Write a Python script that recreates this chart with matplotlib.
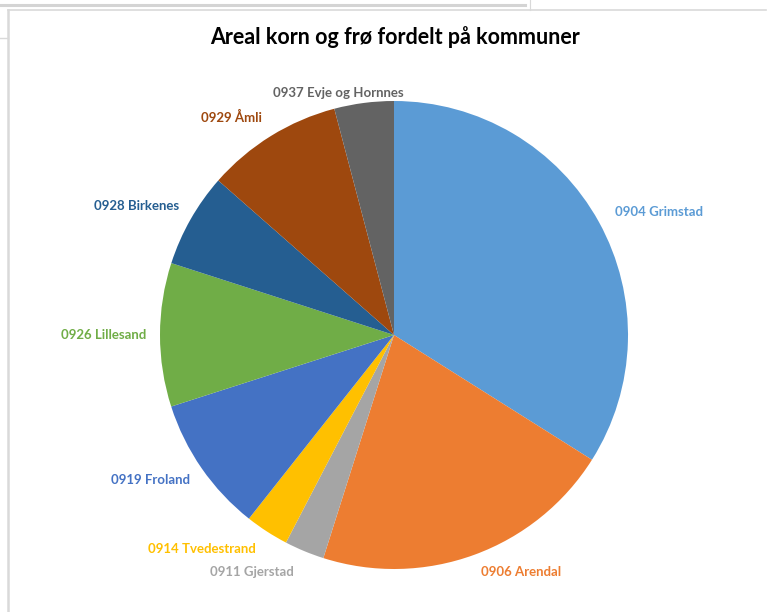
import numpy as np
import matplotlib
matplotlib.use('Agg')
import matplotlib.pyplot as plt
from matplotlib.lines import Line2D

# andel areal (prosent, lest av figuren)
kommuner = ['0904 Grimstad', '0906 Arendal', '0911 Gjerstad', '0914 Tvedestrand',
            '0919 Froland', '0926 Lillesand', '0928 Birkenes', '0929 Åmli',
            '0937 Evje og Hornnes']
andel = [33.9, 20.9, 2.75, 3.0, 9.4, 9.9, 6.5, 9.4, 4.1]
farger = ['#5B9BD5', '#ED7D31', '#A5A5A5', '#FFC000', '#4472C4',
          '#70AD47', '#255E91', '#9E480E', '#636363']

# label placement (distance from centre, angle nudge in degrees)
label_dist = [1.25, 1.15, 1.18, 1.23, 1.21, 1.24, 1.23, 1.16, 1.06]
label_nudge = [-4, 8, -8.5, -9, -4, 0, 3, 5, 5.5]

plt.rcParams['font.family'] = ['Lato', 'DejaVu Sans']

fig = plt.figure(figsize=(7.68, 6.12), dpi=100)

# frame lines like the spreadsheet screenshot
W, H = 768, 612
def fline(x0, y0, x1, y1, lw=1.2, c='#d9d9d9'):
    fig.add_artist(Line2D([x0 / W, x1 / W], [1 - y0 / H, 1 - y1 / H], lw=lw, color=c,
                          transform=fig.transFigure))
fline(0, 5, 525, 5, lw=2.2, c='#d4d4d4')
fline(530, 0, 530, 10, lw=0.8)
fline(8, 10, 766, 10, lw=1.2)
fline(8, 10, 8, 612, lw=1.8)
fline(0, 38, 8, 38, lw=1.0)

fig.text(395 / W, 1 - 37 / H, 'Areal korn og frø fordelt på kommuner',
         ha='center', va='center', fontsize=15.5, fontweight='bold', color='black')

cx, cy, r = 394, 335, 234
ax = fig.add_axes([(cx - r) / W, (H - cy - r) / H, 2 * r / W, 2 * r / H])
wedges, _ = ax.pie(andel, colors=farger, startangle=90, counterclock=False,
                   radius=1, wedgeprops=dict(linewidth=0))
ax.set_xlim(-1, 1)
ax.set_ylim(-1, 1)
ax.axis('off')

for w, navn, farge, d, n in zip(wedges, kommuner, farger, label_dist, label_nudge):
    mid = np.deg2rad((w.theta1 + w.theta2) / 2 + n)
    ax.text(d * np.cos(mid), d * np.sin(mid), navn, ha='center', va='center',
            fontsize=9.5, fontweight='bold', color=farge, clip_on=False)

fig.savefig('out.png', dpi=100)
